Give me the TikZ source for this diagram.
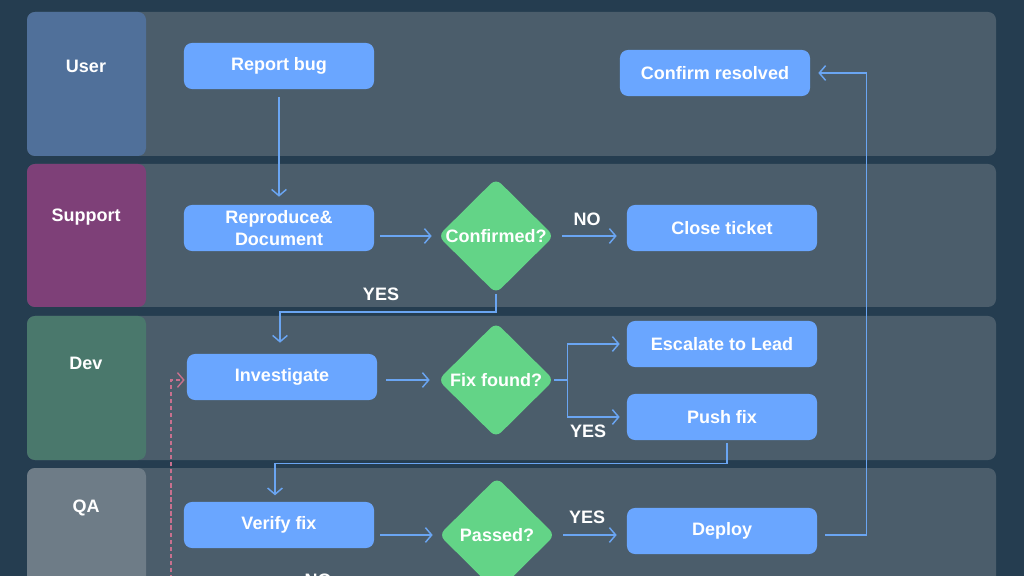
\documentclass[tikz,border=0pt]{standalone}
\usepackage{fontspec}
\setmainfont{Liberation Sans}
\usetikzlibrary{shapes.geometric,arrows.meta}
\definecolor{bg}{HTML}{253D50}
\definecolor{lane}{HTML}{4B5D6B}
\definecolor{cuser}{HTML}{50709A}
\definecolor{csupport}{HTML}{7E4078}
\definecolor{cdev}{HTML}{4A786C}
\definecolor{cqa}{HTML}{6E7C87}
\definecolor{boxblue}{HTML}{6AA6FF}
\definecolor{dgreen}{HTML}{63D487}
\definecolor{linec}{HTML}{6AA5F2}
\definecolor{pinkc}{HTML}{C8708E}
\begin{document}
\begin{tikzpicture}[x=0.025cm,y=-0.025cm,
  font=\fontsize{12.8}{15.5}\selectfont\bfseries,
  lanebox/.style={fill=lane, rounded corners=0.2cm},
  lblbox/.style={rounded corners=0.2cm},
  lbltext/.style={text=white, inner sep=0},
  task/.style={rectangle, rounded corners=0.2cm, fill=boxblue, text=white,
    minimum width=4.75cm, minimum height=1.15cm, align=center, inner sep=0},
  dia/.style={diamond, fill=dgreen, minimum width=2.9cm, minimum height=2.875cm,
    inner sep=0, rounded corners=0.18cm},
  dtext/.style={text=white, inner sep=0},
  conn/.style={draw=linec, line width=1.05pt, -{Straight Barb[length=4.5pt,width=10.5pt]}},
  plain/.style={draw=linec, line width=1.05pt},
  ylabel/.style={text=white, inner sep=0}]
\useasboundingbox (0,0) rectangle (1024,576);
\clip (0,0) rectangle (1024,576);
\fill[bg] (0,0) rectangle (1024,576);

% lanes
\fill[lanebox] (27,12) rectangle (996,156);
\fill[lanebox] (27,164) rectangle (996,307);
\fill[lanebox] (27,316) rectangle (996,460);
\fill[lanebox] (27,468) rectangle (996,640);
\fill[lblbox, fill=cuser] (27,12) rectangle (146,156);
\fill[lblbox, fill=csupport] (27,164) rectangle (146,307);
\fill[lblbox, fill=cdev] (27,316) rectangle (146,460);
\fill[lblbox, fill=cqa] (27,468) rectangle (146,640);
\node[lbltext] (luser) at (86,66) {User};
\node[lbltext] (lsup) at (86,217) {Support};
\node[lbltext] (ldev) at (86,363) {Dev};
\node[lbltext] (lqa) at (86,508) {QA};

% nodes
\node[task] (rb) at (279,66) {Report bug};
\node[task] (cr) at (715,73) {Confirm resolved};
\node[task] (rd) at (279,228) {Reproduce\&\\Document};
\node[dia] (c1) at (496,236) {};
\node[dtext] (c1t) at (c1) {Confirmed?};
\node[task] (ct) at (722,228) {Close ticket};
\node[task] (inv) at (282,377) {Investigate};
\node[dia] (f1) at (496,380) {};
\node[dtext] (f1t) at (f1) {Fix found?};
\node[task] (esc) at (722,344) {Escalate to Lead};
\node[task] (push) at (722,417) {Push fix};
\node[task] (vf) at (279,525) {Verify fix};
\node[dia] (p1) at (497,535) {};
\node[dtext] (p1t) at (p1) {Passed?};
\node[task] (dep) at (722,531) {Deploy};

% connectors
\draw[conn, shorten <=0.2cm, shorten >=0.2cm] (rb) -- (rd);
\draw[conn, shorten <=0.15cm, shorten >=0.15cm] (rd.east |- c1.west) -- (c1.west);
\draw[conn, shorten <=0.2cm, shorten >=0.25cm] (c1.east) -- (ct.west |- c1.east);
\node[ylabel] (lno1) at (587,219) {NO};
\draw[conn, shorten >=0.275cm] (c1.south) -- ++(0,18) -| ([xshift=-0.05cm]inv.north);
\node[ylabel] (lyes1) at (381,294) {YES};
\draw[conn, shorten <=0.225cm, shorten >=0.2cm] (inv.east |- f1.west) -- (f1.west);
\draw[plain] (f1.east) -- ++(13,0) coordinate (br);
\draw[conn, shorten >=0.175cm] (br) |- (esc.west);
\draw[conn, shorten >=0.175cm] (br) |- (push.west);
\node[ylabel] (lyes2) at (588,431) {YES};
\draw[conn, shorten <=0.075cm, shorten >=0.16cm] ([xshift=0.125cm]push.south) -- ++(0,23) -| ([xshift=-0.1cm]vf.north);
\draw[conn, shorten <=0.15cm, shorten >=0.15cm] (vf.east |- p1.west) -- (p1.west);
\draw[conn, shorten <=0.2cm, shorten >=0.25cm] (p1.east) -- (dep.west |- p1.east);
\node[ylabel] (lyes3) at (587,517) {YES};
\draw[conn, shorten <=0.2cm, shorten >=0.2cm] ([yshift=-0.1cm]dep.east) -- ++(49,0) |- (cr.east);
\coordinate (pk) at (171,600);
\draw[draw=pinkc, line width=1pt, dash pattern=on 3pt off 2pt,
  -{Straight Barb[length=4.5pt,width=10.5pt]}, shorten >=0.05cm] (pk) |- ([yshift=-0.075cm]inv.west);
\node[ylabel] (lno2) at (318,580) {NO};
\end{tikzpicture}
\end{document}
